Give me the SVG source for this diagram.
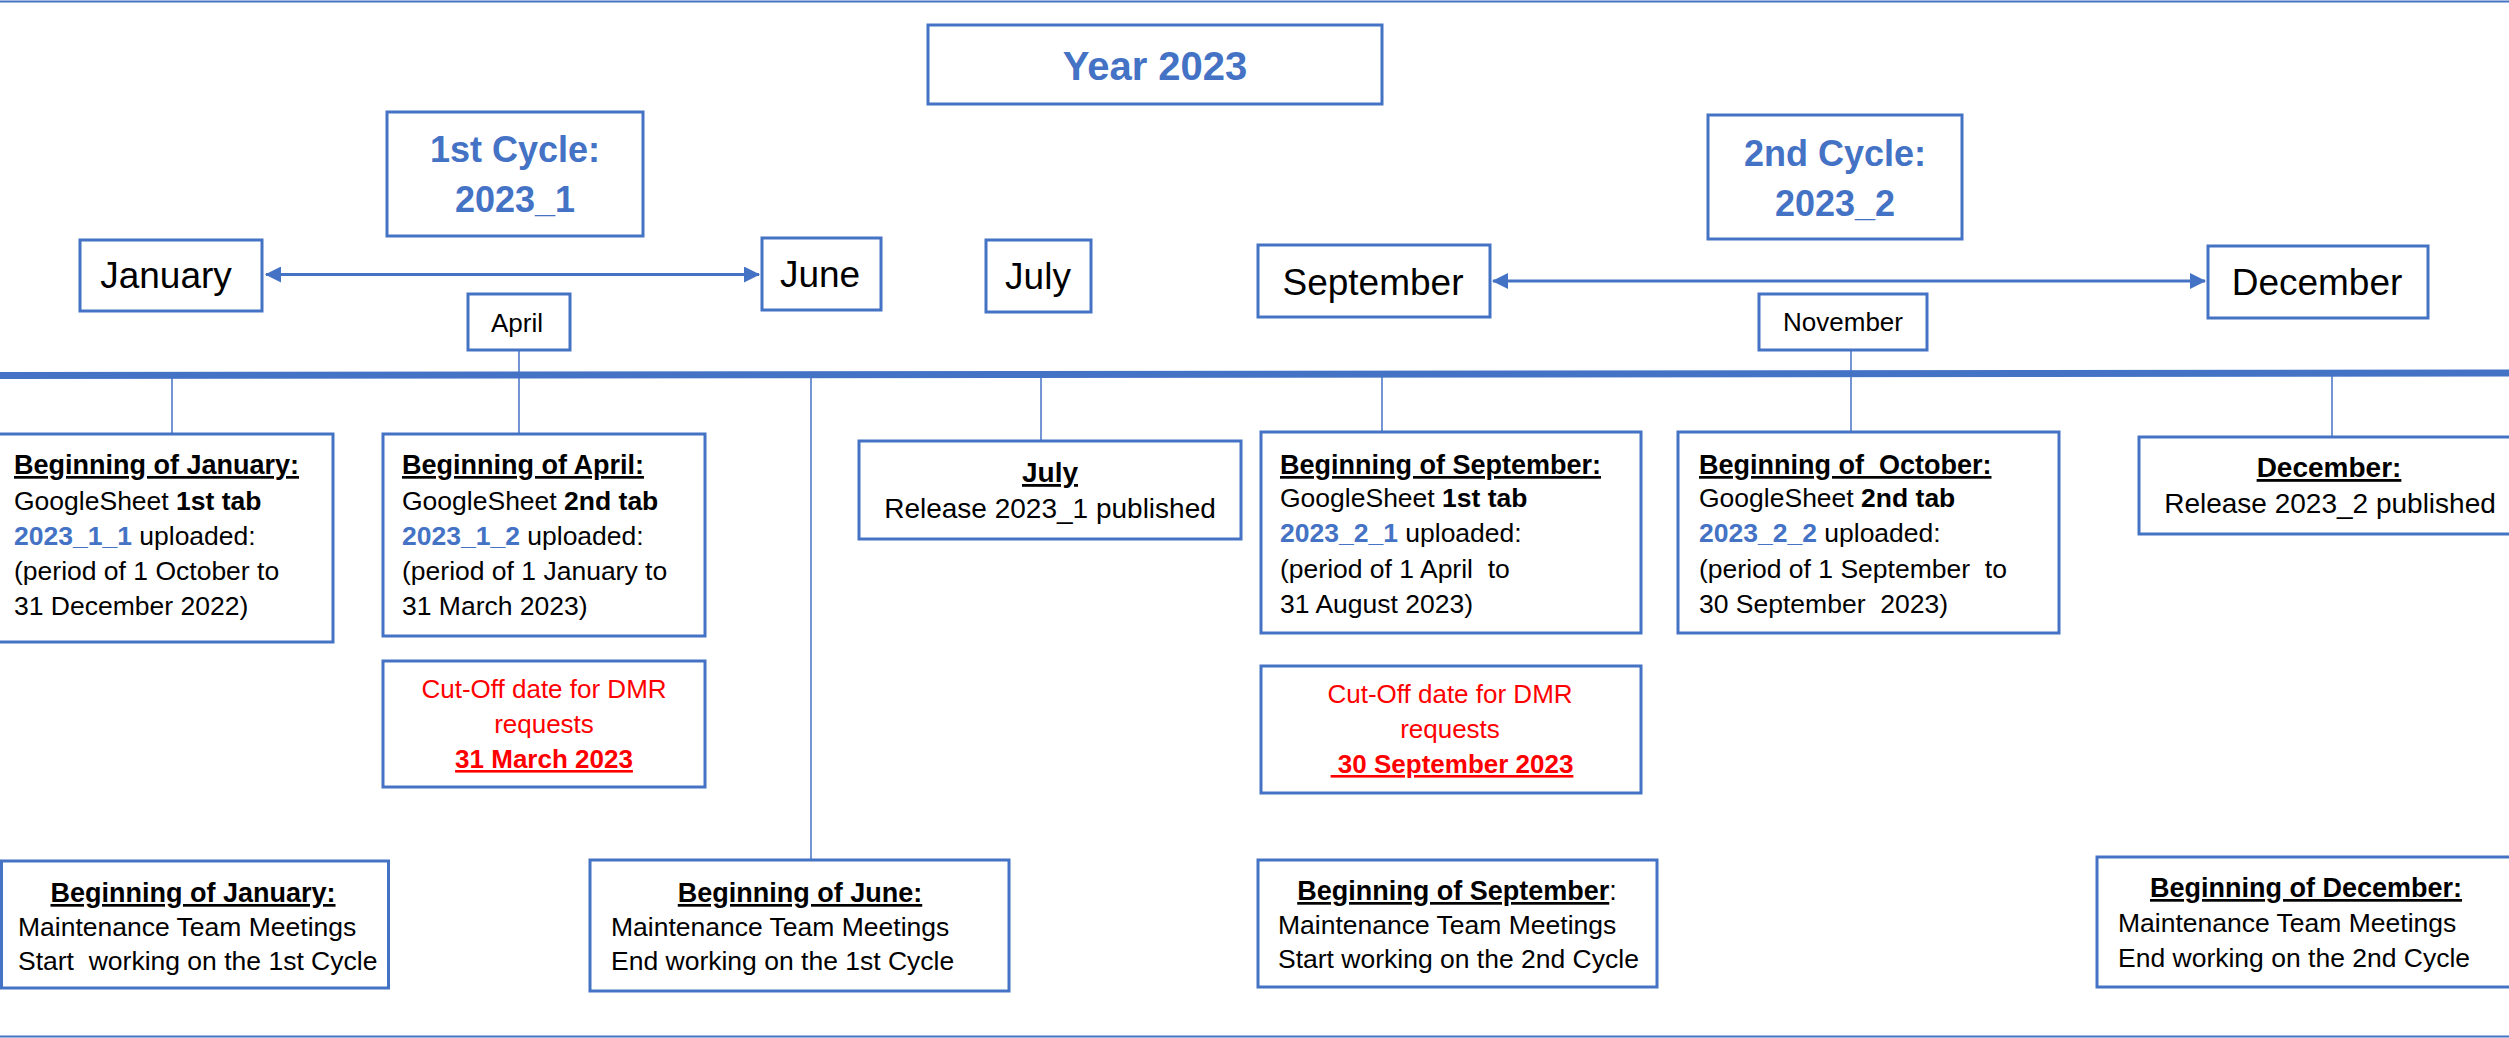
<svg xmlns="http://www.w3.org/2000/svg" width="2509" height="1038" viewBox="0 0 2509 1038">
<defs>
<marker id="ah" viewBox="0 0 16 16" refX="15" refY="8" markerWidth="16" markerHeight="16" markerUnits="userSpaceOnUse" orient="auto-start-reverse">
<path d="M0,0 L16,8 L0,16 Z" fill="#4472C4"/>
</marker>
<style>
text{font-family:"Liberation Sans",Arial,sans-serif;white-space:pre;fill:#000}
.box{fill:#fff;stroke:#4472C4;stroke-width:3}
.conn{stroke:#4472C4;stroke-width:1.5;fill:none}
.arr{stroke:#4472C4;stroke-width:3;fill:none}
.title{font-weight:bold;fill:#4472C4;text-anchor:middle}
.month{font-size:37px;text-anchor:middle}
.small{font-size:26px;text-anchor:middle}
.body{font-size:26.5px}
.hd{font-size:27px;font-weight:bold;text-decoration:underline}
.b{font-weight:bold}
.bl{font-weight:bold;fill:#4472C4}
.red{fill:#FF0000;font-size:26px;text-anchor:middle}
.mid{text-anchor:middle}
.u{text-decoration:underline}
</style>
</defs>
<rect width="2509" height="1038" fill="#fff"/>
<g id="frame">
<line x1="0" y1="1.5" x2="2509" y2="1.5" stroke="#4472C4" stroke-width="2"/>
<line x1="0" y1="1036.5" x2="2509" y2="1036.5" stroke="#4472C4" stroke-width="2"/>
<line x1="0" y1="375.5" x2="2509" y2="373" stroke="#4472C4" stroke-width="7"/>
</g>
<g id="connectors">
<line class="conn" x1="172" y1="378" x2="172" y2="434"/>
<line class="conn" x1="519" y1="350" x2="519" y2="434"/>
<line class="conn" x1="811" y1="378" x2="811" y2="860"/>
<line class="conn" x1="1041" y1="378" x2="1041" y2="441"/>
<line class="conn" x1="1382" y1="377" x2="1382" y2="432"/>
<line class="conn" x1="1851" y1="350" x2="1851" y2="432"/>
<line class="conn" x1="2332" y1="376" x2="2332" y2="437"/>
<line class="arr" x1="266" y1="274.5" x2="759" y2="274.5" marker-start="url(#ah)" marker-end="url(#ah)"/>
<line class="arr" x1="1493" y1="281" x2="2205" y2="281" marker-start="url(#ah)" marker-end="url(#ah)"/>
</g>
<g id="year">
<rect class="box" x="928" y="25" width="454" height="79"/>
<text class="title" x="1155" y="80" font-size="40">Year 2023</text>
</g>
<g id="cycle1">
<rect class="box" x="387" y="112" width="256" height="124"/>
<text class="title" x="515" y="162" font-size="36">1st Cycle:</text>
<text class="title" x="515" y="212" font-size="36">2023_1</text>
</g>
<g id="cycle2">
<rect class="box" x="1708" y="115" width="254" height="124"/>
<text class="title" x="1835" y="166" font-size="36">2nd Cycle:</text>
<text class="title" x="1835" y="216" font-size="36">2023_2</text>
</g>
<g id="january">
<rect class="box" x="80" y="240" width="182" height="71"/>
<text class="month" x="166" y="288">January</text>
</g>
<g id="june">
<rect class="box" x="762" y="238" width="119" height="72"/>
<text class="month" x="820" y="287">June</text>
</g>
<g id="july">
<rect class="box" x="986" y="240" width="105" height="72"/>
<text class="month" x="1038" y="289">July</text>
</g>
<g id="september">
<rect class="box" x="1258" y="245" width="232" height="72"/>
<text class="month" x="1373" y="295">September</text>
</g>
<g id="december">
<rect class="box" x="2208" y="246" width="220" height="72"/>
<text class="month" x="2317" y="295">December</text>
</g>
<g id="april">
<rect class="box" x="468" y="294" width="102" height="56"/>
<text class="small" x="517" y="332">April</text>
</g>
<g id="november">
<rect class="box" x="1759" y="294" width="168" height="56"/>
<text class="small" x="1843" y="331">November</text>
</g>
<g id="begin-jan-upload">
<rect class="box" x="-3" y="434" width="336" height="208"/>
<text class="hd" x="14" y="474">Beginning of January:</text>
<text class="body" x="14" y="510">GoogleSheet <tspan class="b">1st tab</tspan></text>
<text class="body" x="14" y="545"><tspan class="bl">2023_1_1</tspan> uploaded:</text>
<text class="body" x="14" y="580">(period of 1 October to</text>
<text class="body" x="14" y="615">31 December 2022)</text>
</g>
<g id="begin-apr-upload">
<rect class="box" x="383" y="434" width="322" height="202"/>
<text class="hd" x="402" y="474">Beginning of April:</text>
<text class="body" x="402" y="510">GoogleSheet <tspan class="b">2nd tab</tspan></text>
<text class="body" x="402" y="545"><tspan class="bl">2023_1_2</tspan> uploaded:</text>
<text class="body" x="402" y="580">(period of 1 January to</text>
<text class="body" x="402" y="615">31 March 2023)</text>
</g>
<g id="cutoff-1">
<rect class="box" x="383" y="661" width="322" height="126"/>
<text class="red" x="544" y="698">Cut-Off date for DMR</text>
<text class="red" x="544" y="733">requests</text>
<text class="red b u" x="544" y="768" font-size="27">31 March 2023</text>
</g>
<g id="july-release">
<rect class="box" x="859" y="441" width="382" height="98"/>
<text class="mid b u" x="1050" y="482" font-size="28">July</text>
<text class="mid" x="1050" y="518" font-size="28">Release 2023_1 published</text>
</g>
<g id="begin-sep-upload">
<rect class="box" x="1261" y="432" width="380" height="201"/>
<text class="hd" x="1280" y="474">Beginning of September:</text>
<text class="body" x="1280" y="507">GoogleSheet <tspan class="b">1st tab</tspan></text>
<text class="body" x="1280" y="542"><tspan class="bl">2023_2_1</tspan> uploaded:</text>
<text class="body" x="1280" y="578">(period of 1 April  to</text>
<text class="body" x="1280" y="613">31 August 2023)</text>
</g>
<g id="cutoff-2">
<rect class="box" x="1261" y="666" width="380" height="127"/>
<text class="red" x="1450" y="703">Cut-Off date for DMR</text>
<text class="red" x="1450" y="738">requests</text>
<text class="red b u" x="1452" y="773" font-size="27"> 30 September 2023</text>
</g>
<g id="begin-oct-upload">
<rect class="box" x="1678" y="432" width="381" height="201"/>
<text class="hd" x="1699" y="474">Beginning of  October:</text>
<text class="body" x="1699" y="507">GoogleSheet <tspan class="b">2nd tab</tspan></text>
<text class="body" x="1699" y="542"><tspan class="bl">2023_2_2</tspan> uploaded:</text>
<text class="body" x="1699" y="578">(period of 1 September  to</text>
<text class="body" x="1699" y="613">30 September  2023)</text>
</g>
<g id="december-release">
<rect class="box" x="2139" y="437" width="390" height="97"/>
<text class="mid b u" x="2329" y="477" font-size="28">December:</text>
<text class="mid" x="2330" y="513" font-size="28">Release 2023_2 published</text>
</g>
<g id="meeting-jan">
<rect class="box" x="1.5" y="861" width="387" height="127"/>
<text class="hd mid" x="193" y="902">Beginning of January:</text>
<text class="body" x="18" y="936" font-size="26">Maintenance Team Meetings</text>
<text class="body" x="18" y="970" font-size="26">Start  working on the 1st Cycle</text>
</g>
<g id="meeting-jun">
<rect class="box" x="590" y="860" width="419" height="131"/>
<text class="hd mid" x="800" y="902">Beginning of June:</text>
<text class="body" x="611" y="936" font-size="26">Maintenance Team Meetings</text>
<text class="body" x="611" y="970" font-size="26">End working on the 1st Cycle</text>
</g>
<g id="meeting-sep">
<rect class="box" x="1258" y="860" width="399" height="127"/>
<text class="mid" x="1457" y="900" font-size="27"><tspan class="b u">Beginning of September</tspan>:</text>
<text class="body" x="1278" y="934" font-size="26">Maintenance Team Meetings</text>
<text class="body" x="1278" y="968" font-size="26">Start working on the 2nd Cycle</text>
</g>
<g id="meeting-dec">
<rect class="box" x="2097" y="857" width="430" height="130"/>
<text class="hd mid" x="2306" y="897">Beginning of December:</text>
<text class="body" x="2118" y="932" font-size="26">Maintenance Team Meetings</text>
<text class="body" x="2118" y="967" font-size="26">End working on the 2nd Cycle</text>
</g>
</svg>
